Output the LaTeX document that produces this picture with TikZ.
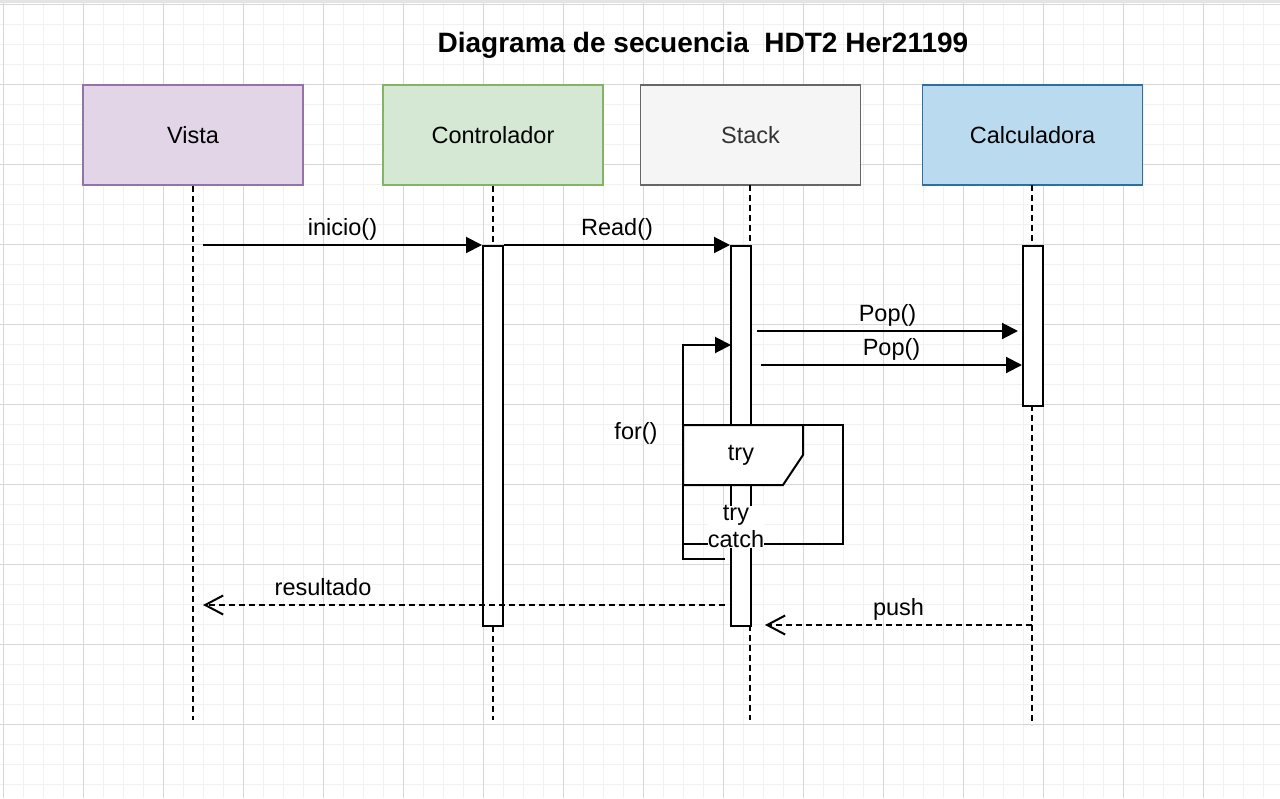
\documentclass[tikz,border=0pt]{standalone}
\usepackage{fontspec}
\setmainfont{Liberation Sans}
\usepackage{tikz}
\usetikzlibrary{arrows.meta, calc}

\definecolor{vistafill}{HTML}{E1D5E7}
\definecolor{vistaline}{HTML}{9673A6}
\definecolor{ctrlfill}{HTML}{D5E8D4}
\definecolor{ctrlline}{HTML}{82B366}
\definecolor{stackfill}{HTML}{F5F5F5}
\definecolor{stackline}{HTML}{666666}
\definecolor{stacktext}{HTML}{333333}
\definecolor{calcfill}{HTML}{BADBEF}
\definecolor{calcline}{HTML}{2F6F9F}
\definecolor{gridminor}{HTML}{F1F1F1}
\definecolor{gridmajor}{HTML}{D8D8D8}

\newcommand{\labfont}{\fontsize{23.5}{27}\selectfont}
\newcommand{\titlefont}{\fontsize{28}{32}\selectfont\bfseries}

\tikzset{
    lifehead/.style={draw, line width=1.5pt, minimum width=220pt, minimum height=100pt, inner sep=0pt, font=\labfont},
    lifeline/.style={line width=2pt, dash pattern=on 6pt off 4pt},
    actbar/.style={draw, fill=white, line width=2pt, minimum width=20pt, inner sep=0pt, anchor=north},
    call/.style={line width=2pt, -{Triangle[length=16pt,width=16pt]}},
    reply/.style={line width=2pt, dash pattern=on 6pt off 4pt, -{Straight Barb[length=18pt,width=19pt]}},
    msg/.style={font=\labfont, above, inner sep=2pt, text height=17pt, text depth=7pt},
    minorgrid/.style={gridminor, line width=1pt},
    majorgrid/.style={gridmajor, line width=1pt}
}

\begin{document}
\begin{tikzpicture}[x=1pt, y=-1pt]
        \useasboundingbox (0,0) rectangle (1280,798);
        \fill[white] (0,0) rectangle (1280,798);
        
        % grid
        \foreach \gx in {3,23,...,1280} \draw[minorgrid] (\gx,0) -- (\gx,798);
        \foreach \gy in {4,24,...,798} \draw[minorgrid] (0,\gy) -- (1280,\gy);
        \foreach \gx in {3,83,...,1280} \draw[majorgrid] (\gx,0) -- (\gx,798);
        \foreach \gy in {4,84,...,798} \draw[majorgrid] (0,\gy) -- (1280,\gy);
        \fill[gridmajor!70] (0,0) rectangle (1280,3);
        
        \node[font=\titlefont] (title) at (703,45) {Diagrama de secuencia\ \ HDT2 Her21199};
        
        \node[lifehead, fill=vistafill, draw=vistaline] (vista) at (193,135) {Vista};
        \node[lifehead, fill=ctrlfill, draw=ctrlline] (ctrl) at (493,135) {Controlador};
        \node[lifehead, fill=stackfill, draw=stackline, text=stacktext] (stack) at (750.5,135) {Stack};
        \node[lifehead, fill=calcfill, draw=calcline] (calc) at (1032.5,135) {Calculadora};
        
        \coordinate (vistaend) at (193,720);
        \coordinate (ctrlend) at (493,720);
        \coordinate (stackend) at (750,720);
        \coordinate (calcend) at (1032,725);
        
        \draw[lifeline] (vista.south) -- (vistaend);
        \draw[lifeline] (ctrl.south) -- (ctrlend);
        \draw[lifeline] (750,185) -- (stackend);
        \draw[lifeline] (1032,185) -- (calcend);
        
        \node[actbar, minimum height=380pt] (ctrlbar) at (493,245) {};
        \node[actbar, minimum height=380pt] (stackbar) at (741,245) {};
        \node[actbar, minimum height=160pt] (calcbar) at (1033,245) {};
        
        \coordinate (inicioA) at (203,245);
        \coordinate (popA) at (757,331);
        \coordinate (popB) at (1018,331);
        \coordinate (popC) at (761,365);
        \coordinate (popD) at (1022,365);
        
        \draw[call] (inicioA) -- (ctrlbar.north west) node[msg, midway] {inicio()};
        \draw[call] (ctrlbar.north east) -- (stackbar.north west) node[msg, midway] {Read()};
        \draw[call] (popA) -- (popB) node[msg, midway] {Pop()};
        \draw[call] (popC) -- (popD) node[msg, midway] {Pop()};
        
        % for() loop and try frame
        \coordinate (loopA) at (725,559);
        \coordinate (loopB) at (683,559);
        \coordinate (loopC) at (683,345);
        \coordinate (loopD) at (731,345);
        \draw[call] (loopA) -- (loopB) -- (loopC) -- (loopD);
        \node[font=\labfont] (forlabel) at (636,433) {for()};
        
        \draw[line width=2pt] (683,425) rectangle (843,544);
        \draw[line width=2pt, fill=white] (683,425) -- (803,425) -- (803,455) -- (783,485) -- (683,485) -- cycle;
        \node[font=\labfont] (trylabel) at (741,455) {try};
        \node[font=\labfont, fill=white, inner sep=0pt, align=center] (catchlabel) at (736,527) {try\\catch};
        
        % replies
        \coordinate (resA) at (725,605);
        \coordinate (resB) at (203,605);
        \coordinate (pushA) at (1032,625);
        \coordinate (pushB) at (765,625);
        \draw[reply] (resA) -- (resB) node[msg, pos=0.77] {resultado};
        \draw[reply] (pushA) -- (pushB) node[msg, midway] {push};
        
    \end{tikzpicture}
\end{document}
